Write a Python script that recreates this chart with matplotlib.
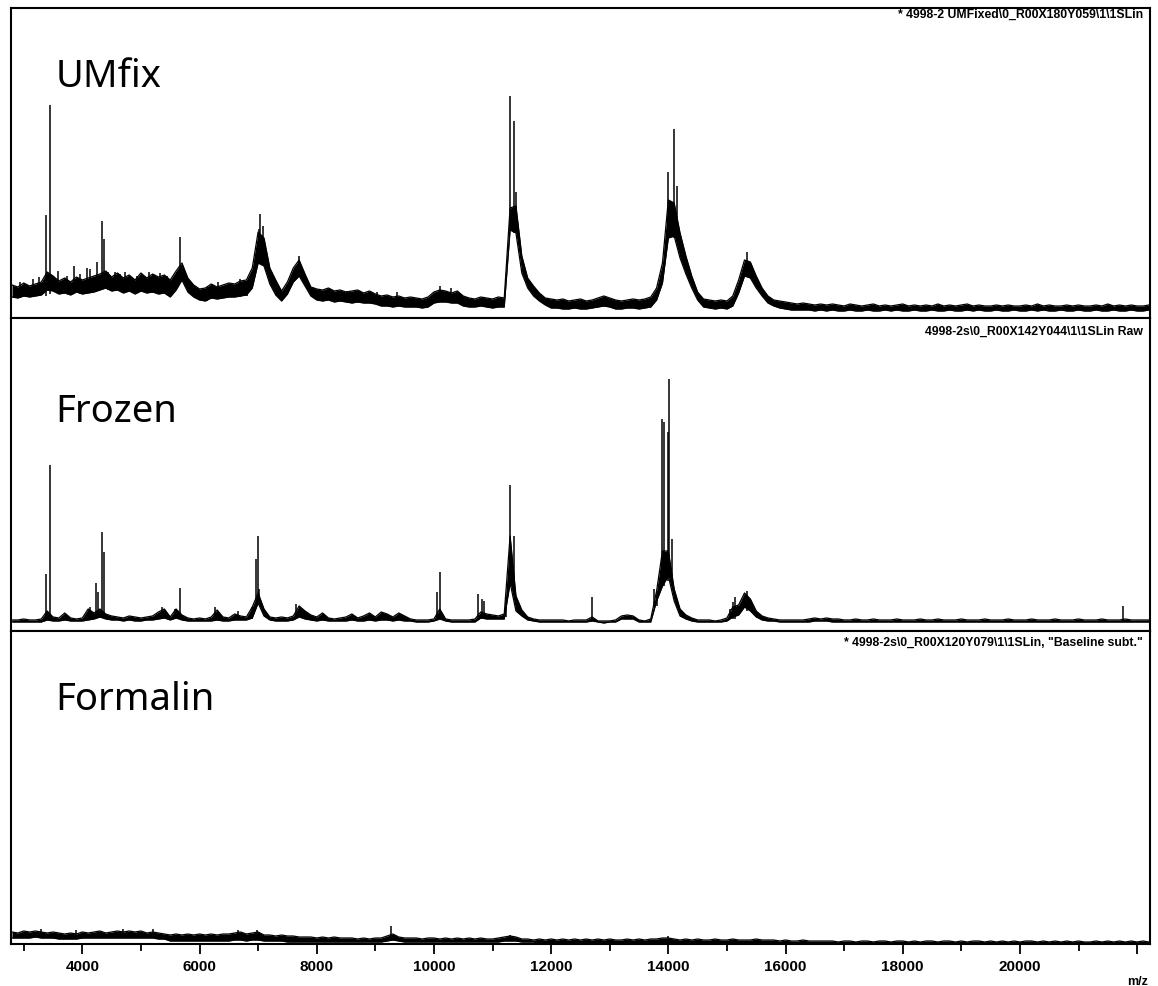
import numpy as np
import matplotlib.pyplot as plt
from matplotlib.ticker import MultipleLocator

###########################################
# Spectra
# one reading every 100 m/z, values are the
# trace height (lo / hi of the noise band)
# in pixels above each panel's bottom edge

mz = np.arange(2800, 22300, 100)

umfix_hi = [33, 31, 35, 32, 34, 36, 46, 42, 37, 40,    # 2800-3700
            36, 41, 38, 40, 42, 44, 47, 41, 45, 40,    # 3800-4700
            43, 38, 45, 40, 44, 41, 43, 38, 47, 55,    # 4800-5700
            40, 33, 29, 30, 34, 31, 33, 35, 34, 37,    # 5800-6700
            38, 50, 86, 80, 50, 38, 27, 36, 50, 58,    # 6800-7700
            44, 31, 29, 28, 30, 27, 28, 26, 27, 28,    # 7800-8700
            25, 27, 24, 22, 23, 21, 22, 20, 21, 20,    # 8800-9700
            19, 21, 26, 28, 27, 25, 27, 22, 20, 19,    # 9800-10700
            21, 20, 19, 21, 20, 110, 112, 62, 40, 32,  # 10800-11700
            25, 20, 19, 18, 19, 17, 18, 19, 17, 18,    # 11800-12700
            20, 22, 20, 18, 17, 18, 19, 18, 19, 21,    # 12800-13700
            30, 55, 118, 115, 85, 62, 42, 26, 19, 18,  # 13800-14700
            17, 18, 17, 22, 38, 58, 56, 42, 30, 22,    # 14800-15700
            18, 17, 16, 15, 14, 15, 14, 13, 14, 13,    # 15800-16700
            14, 13, 12, 14, 13, 12, 13, 14, 12, 13,    # 16800-17700
            12, 13, 14, 12, 13, 12, 13, 12, 14, 12,    # 17800-18700
            13, 12, 13, 14, 12, 13, 12, 12, 13, 12,    # 18800-19700
            13, 12, 12, 13, 12, 14, 12, 13, 12, 12,    # 19800-20700
            13, 12, 13, 12, 12, 13, 12, 14, 12, 13,    # 20800-21700
            12, 13, 12, 12, 13]                        # 21800-22200
umfix_lo = [21, 20, 22, 21, 22, 23, 28, 27, 24, 25,
            23, 26, 24, 25, 26, 28, 30, 27, 28, 25,
            27, 24, 27, 25, 26, 24, 25, 21, 28, 38,
            26, 21, 18, 17, 20, 19, 20, 21, 21, 22,
            23, 30, 55, 52, 34, 23, 17, 24, 36, 42,
            32, 22, 18, 17, 18, 16, 17, 16, 15, 16,
            15, 15, 14, 12, 12, 11, 12, 11, 11, 11,
            10, 11, 15, 16, 16, 15, 15, 12, 11, 11,
            12, 11, 10, 11, 11, 88, 85, 45, 30, 22,
            17, 13, 10, 10, 9, 9, 10, 9, 9, 10,
            11, 12, 11, 9, 9, 10, 10, 9, 10, 11,
            18, 35, 80, 82, 60, 44, 30, 18, 11, 10,
            9, 10, 9, 12, 25, 42, 40, 30, 22, 15,
            12, 10, 9, 8, 8, 8, 8, 7, 8, 7,
            8, 7, 7, 8, 7, 7, 8, 7, 7, 8,
            7, 8, 7, 7, 8, 7, 7, 8, 7, 7,
            8, 7, 7, 8, 7, 8, 7, 7, 8, 7,
            7, 8, 7, 7, 8, 7, 8, 7, 7, 8,
            7, 7, 8, 7, 7, 8, 7, 7, 8, 7,
            7, 8, 7, 7, 8]
# narrow peaks and noise spikes: position, foot, apex
umfix_pk_mz = [2937, 3164, 3266, 3374, 3442, 3590, 3734, 3858, 3960, 4080,
               4125, 4245, 4336, 4370, 4444, 4560, 4643, 4729, 4928, 5130,
               5212, 5326, 5440, 5672, 6123, 6321, 6464, 6691, 6805, 7010,
               7037, 7086, 7700, 7942, 8227, 8512, 8739, 9024, 9365, 10100,
               10300, 11300, 11370, 11400, 13990, 14090, 14150, 15350]
umfix_pk_lo = [20, 21, 22, 22, 24, 24, 25, 28, 24, 28,
               28, 28, 30, 30, 28, 30, 28, 25, 25, 28,
               25, 28, 24, 38, 17, 19, 20, 21, 22, 55,
               55, 55, 42, 22, 18, 16, 16, 14, 12, 16,
               16, 88, 85, 85, 80, 80, 80, 42]
umfix_pk_hi = [36, 39, 41, 103, 213, 47, 42, 52, 44, 50,
               49, 56, 97, 79, 46, 46, 44, 46, 42, 46,
               44, 45, 42, 81, 31, 36, 32, 39, 37, 89,
               104, 92, 62, 31, 29, 27, 27, 26, 26, 32,
               30, 222, 197, 126, 146, 189, 132, 66]

frozen_hi = [11, 11, 12, 11, 11, 12, 20, 14, 13, 18,
             13, 12, 13, 22, 18, 22, 17, 15, 14, 13,
             15, 14, 13, 14, 15, 19, 22, 14, 22, 16,
             13, 12, 13, 12, 14, 21, 14, 13, 17, 15,
             14, 24, 38, 22, 14, 13, 14, 13, 15, 25,
             20, 16, 14, 18, 13, 12, 13, 14, 17, 13,
             15, 18, 14, 19, 17, 14, 18, 15, 12, 11,
             11, 11, 12, 22, 12, 11, 11, 11, 11, 12,
             19, 17, 16, 15, 17, 95, 35, 21, 14, 12,
             11, 11, 11, 11, 11, 10, 11, 11, 11, 14,
             10, 10, 10, 11, 15, 16, 15, 11, 10, 12,
             40, 80, 80, 42, 22, 16, 13, 11, 11, 11,
             10, 11, 13, 24, 26, 38, 32, 20, 15, 13,
             12, 11, 11, 11, 11, 11, 12, 13, 12, 13,
             12, 12, 11, 11, 12, 11, 11, 12, 11, 11,
             11, 12, 11, 11, 11, 12, 11, 11, 12, 11,
             11, 11, 12, 11, 11, 11, 12, 11, 11, 11,
             12, 11, 11, 11, 12, 11, 11, 11, 12, 11,
             11, 11, 12, 11, 11, 11, 12, 11, 11, 11,
             12, 11, 11, 11, 11]
frozen_lo = [9, 9, 9, 9, 9, 9, 11, 10, 10, 11,
             10, 10, 10, 11, 12, 14, 12, 11, 11, 10,
             11, 10, 10, 11, 11, 12, 13, 11, 13, 11,
             10, 10, 10, 10, 10, 11, 10, 10, 11, 11,
             11, 13, 28, 15, 11, 10, 10, 10, 11, 14,
             12, 11, 10, 11, 10, 10, 10, 10, 11, 10,
             10, 11, 10, 11, 11, 10, 11, 10, 10, 9,
             9, 9, 10, 12, 10, 9, 9, 9, 9, 9,
             13, 12, 12, 12, 12, 48, 20, 15, 11, 10,
             9, 9, 9, 9, 9, 9, 9, 9, 9, 10,
             9, 8, 9, 9, 12, 12, 12, 9, 9, 9,
             30, 45, 55, 30, 15, 12, 10, 9, 9, 9,
             9, 9, 10, 14, 16, 24, 20, 14, 11, 10,
             10, 9, 9, 9, 9, 9, 9, 10, 10, 10,
             9, 9, 9, 9, 9, 9, 9, 9, 9, 9,
             9, 9, 9, 9, 9, 9, 9, 9, 9, 9,
             9, 9, 9, 9, 9, 9, 9, 9, 9, 9,
             9, 9, 9, 9, 9, 9, 9, 9, 9, 9,
             9, 9, 9, 9, 9, 9, 9, 9, 9, 9,
             9, 9, 9, 9, 9]
frozen_pk_mz = [3374, 3442, 4125, 4240, 4268, 4336, 4370, 5360, 5590, 5672,
                6270, 6650, 6896, 6970, 6992, 7016, 7650, 10060, 10100, 10760,
                10815, 10855, 11230, 11300, 11370, 12690, 13750, 13800, 13900, 13930,
                13990, 14020, 14060, 15060, 15110, 15130, 15340, 21765]
frozen_pk_lo = [10, 12, 11, 14, 14, 15, 14, 12, 12, 12,
                11, 11, 12, 30, 30, 30, 13, 12, 12, 14,
                14, 14, 14, 48, 48, 10, 25, 25, 45, 45,
                50, 55, 50, 12, 12, 12, 20, 9]
frozen_pk_hi = [57, 166, 24, 48, 39, 99, 79, 24, 22, 43,
                24, 20, 24, 72, 95, 42, 27, 39, 59, 37,
                32, 30, 33, 146, 95, 34, 42, 39, 212, 209,
                199, 252, 92, 22, 29, 34, 40, 25]

formalin_hi = [12, 11, 13, 12, 13, 12, 11, 12, 11, 10,
               11, 10, 12, 11, 12, 13, 11, 12, 13, 12,
               13, 12, 13, 11, 12, 11, 10, 9, 10, 9,
               10, 9, 10, 9, 10, 9, 10, 10, 11, 12,
               10, 11, 12, 9, 9, 8, 9, 8, 8, 7,
               7, 7, 6, 7, 6, 7, 6, 6, 6, 5,
               6, 5, 6, 6, 8, 10, 7, 6, 6, 6,
               5, 6, 6, 5, 6, 5, 6, 5, 6, 5,
               6, 5, 5, 6, 7, 8, 7, 5, 5, 4,
               5, 4, 5, 4, 5, 4, 5, 4, 5, 4,
               5, 4, 5, 4, 4, 5, 4, 5, 4, 5,
               5, 6, 6, 5, 4, 5, 4, 5, 4, 4,
               5, 4, 4, 5, 4, 4, 4, 5, 4, 4,
               4, 3, 4, 3, 3, 4, 3, 3, 3, 3,
               3, 2, 3, 3, 2, 3, 3, 2, 3, 3,
               2, 3, 3, 2, 3, 2, 3, 3, 2, 3,
               3, 2, 3, 2, 3, 3, 2, 3, 2, 3,
               2, 3, 2, 3, 3, 2, 3, 2, 3, 2,
               3, 2, 3, 2, 2, 3, 2, 3, 2, 3,
               2, 3, 2, 3, 2]
formalin_lo = [6, 6, 6, 6, 7, 6, 6, 6, 5, 5,
               5, 5, 6, 6, 6, 6, 6, 6, 6, 6,
               6, 6, 6, 6, 6, 5, 5, 3, 3, 3,
               3, 3, 3, 3, 3, 3, 3, 3, 4, 4,
               3, 4, 4, 3, 3, 3, 3, 2, 2, 2,
               2, 2, 2, 2, 2, 2, 2, 2, 2, 2,
               2, 2, 2, 2, 3, 4, 3, 2, 2, 2,
               2, 2, 2, 2, 2, 2, 2, 2, 2, 2,
               2, 2, 2, 2, 3, 3, 3, 2, 2, 2,
               1, 1, 1, 1, 1, 1, 1, 1, 1, 1,
               1, 1, 1, 1, 1, 1, 1, 1, 1, 1,
               1, 1, 1, 1, 1, 1, 1, 1, 1, 1,
               1, 1, 1, 1, 1, 1, 1, 1, 1, 1,
               1, 1, 1, 1, 1, 1, 1, 1, 1, 1,
               1, 1, 1, 1, 1, 1, 1, 1, 1, 1,
               1, 1, 1, 1, 1, 1, 1, 1, 1, 1,
               1, 1, 1, 1, 1, 1, 1, 1, 1, 1,
               1, 1, 1, 1, 1, 1, 1, 1, 1, 1,
               1, 1, 1, 1, 1, 1, 1, 1, 1, 1,
               1, 1, 1, 1, 1]
formalin_pk_mz = [3300, 3900, 4700, 5200, 6662, 6976, 9270, 11300, 14000]
formalin_pk_lo = [6, 5, 6, 6, 4, 4, 6, 3, 4]
formalin_pk_hi = [15, 14, 15, 15, 14, 14, 18, 9, 8]

sample_names = ["UMfix", "Frozen", "Formalin"]
file_tags = [r"* 4998-2 UMFixed\0_R00X180Y059\1\1SLin",
             r"4998-2s\0_R00X142Y044\1\1SLin Raw",
             r'* 4998-2s\0_R00X120Y079\1\1SLin, "Baseline subt."']

###########################################


def draw_panel(ax, lo, hi, pk_mz, pk_lo, pk_hi, top, name, tag, name_y, tag_y):
    ax.fill_between(mz, lo, hi, color="black", linewidth=0)
    ax.plot(mz, hi, color="black", linewidth=0.9)
    ax.plot(mz, lo, color="black", linewidth=0.9)
    ax.vlines(pk_mz, pk_lo, pk_hi, color="black", linewidth=1.1)

    ax.set_xlim(2783, 22220)
    ax.set_ylim(0, top)
    ax.set_yticks([])
    for sp in ax.spines.values():
        sp.set_linewidth(1.5)

    ax.text(0.039, name_y, name, transform=ax.transAxes, fontsize=27.5,
            family="Noto Sans", va="baseline", ha="left")
    ax.text(0.994, tag_y, tag, transform=ax.transAxes, fontsize=8.8,
            family="Liberation Sans", weight="bold",
            va="center", ha="right")


fig = plt.figure(figsize=(11.58, 9.87), dpi=100)

ax1 = fig.add_axes([0.0095, 0.6768, 0.9836, 0.3141])
ax2 = fig.add_axes([0.0095, 0.3597, 0.9836, 0.3171])
ax3 = fig.add_axes([0.0095, 0.04255, 0.9836, 0.3171])

draw_panel(ax1, umfix_lo, umfix_hi, umfix_pk_mz, umfix_pk_lo, umfix_pk_hi, 310,
           sample_names[0], file_tags[0], 0.748, 0.981)
draw_panel(ax2, frozen_lo, frozen_hi, frozen_pk_mz, frozen_pk_lo, frozen_pk_hi, 313,
           sample_names[1], file_tags[1], 0.672, 0.959)
draw_panel(ax3, formalin_lo, formalin_hi, formalin_pk_mz, formalin_pk_lo, formalin_pk_hi, 313,
           sample_names[2], file_tags[2], 0.751, 0.964)

for ax in (ax1, ax2):
    ax.set_xticks([])

# only the bottom panel carries the m/z axis
ax3.xaxis.set_minor_locator(MultipleLocator(1000))
ax3.tick_params(axis="x", which="major", direction="out", length=7, width=1.3, pad=4)
ax3.tick_params(axis="x", which="minor", direction="out", length=5, width=1.3)
ax3.set_xticks([4000, 6000, 8000, 10000, 12000, 14000, 16000, 18000, 20000, 22000])
ax3.set_xticklabels(["4000", "6000", "8000", "10000", "12000", "14000",
                     "16000", "18000", "20000", ""])
for lab in ax3.get_xticklabels():
    lab.set_fontfamily("Liberation Sans")
    lab.set_fontweight("bold")
    lab.set_fontsize(11)

fig.text(1138 / 1158, 1 - 982 / 987, "m/z", fontsize=9, weight="bold",
         family="Liberation Sans", ha="center", va="center")

plt.savefig("out.png", dpi=100)
